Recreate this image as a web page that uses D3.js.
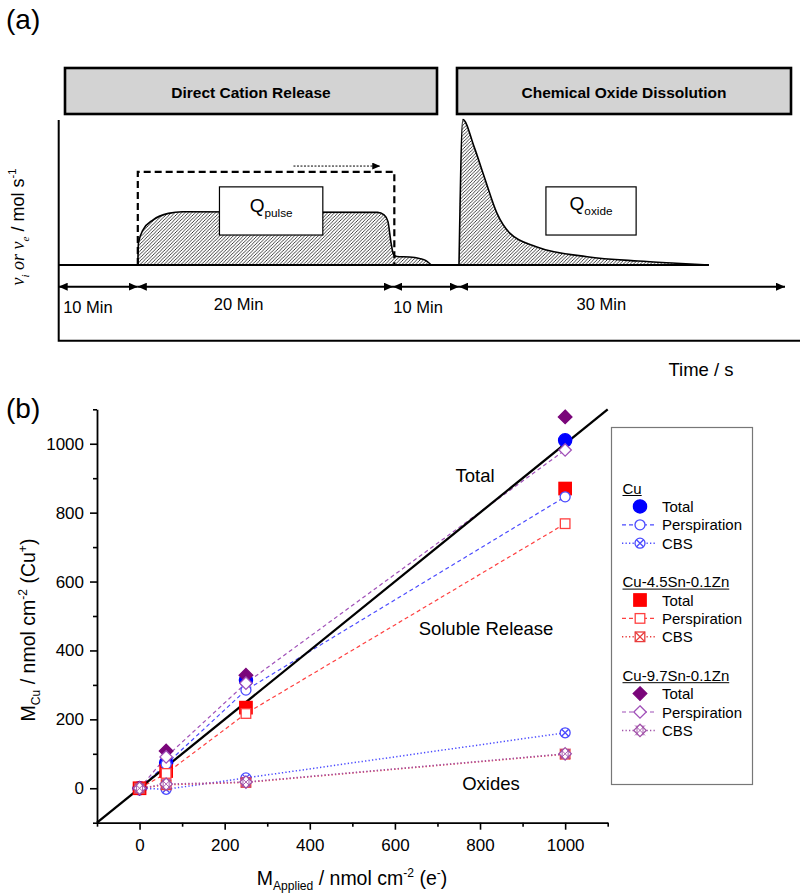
<!DOCTYPE html>
<html><head><meta charset="utf-8">
<script src="https://cdn.jsdelivr.net/npm/d3@7"></script>
<style>
body{margin:0;background:#fff}
svg{display:block}
text{font-family:"Liberation Sans",Arial,Helvetica,sans-serif;fill:#000}
</style>
</head><body>
<svg id="c" width="800" height="893"></svg>
<script>
// ---------------- DATA: panel (a) schematic ----------------
const phaseBounds = [0, 10, 30, 40, 70];            // minutes
const phaseLabels = ["10 Min", "20 Min", "10 Min", "30 Min"];
const phaseLabelAt = [3.7, 17.9, 33.8, 53.1];        // minutes
const phaseNames = ["Direct Cation Release", "Chemical Oxide Dissolution"];
const pulseT = [10, 10.05, 10.4, 11.2, 12.4, 13.5, 28.8, 29.3, 29.6, 29.85, 30.1, 30.6, 32.5, 34, 35, 35.8];
const pulseR = [0, 0.15, 0.24, 0.31, 0.355, 0.366, 0.362, 0.345, 0.3, 0.15, 0.07, 0.058, 0.055, 0.045, 0.03, 0];
const oxideT = [40, 40.35, 41.4, 42.35, 43.5, 44.7, 47.1, 51.8, 56.5, 60, 63];
const oxideR = [0, 1.0, 0.81, 0.6, 0.355, 0.217, 0.126, 0.057, 0.027, 0.012, 0];
const appliedLevel = 0.64;   // dashed applied current level
const appliedEnd = 30.2;

// ---------------- DATA: panel (b) ----------------
const xApplied  = [0, 62.5, 250, 1000];
const cuTotal   = [0, 74, 314, 1010];
const cuPersp   = [0, 70, 285, 846];
const cuCBS     = [0, -3, 30, 161];
const sn45Total = [0, 50, 234, 870];
const sn45Persp = [0, 43, 217, 768];
const sn45CBS   = [0, 10, 17, 99];
const sn97Total = [0, 108, 328, 1078];
const sn97Persp = [0, 91, 305, 982];
const sn97CBS   = [0, 12, 18, 100];
const alloys    = ["Cu", "Cu-4.5Sn-0.1Zn", "Cu-9.7Sn-0.1Zn"];
const measures  = ["Total", "Perspiration", "CBS"];
const majorTicks = [0, 200, 400, 600, 800, 1000];
const minorTicks = [-100, 100, 300, 500, 700, 900, 1100];
const idealLine = [-100, 1100];

const svg = d3.select("#c");
const defs = svg.append("defs");

// rich text helper
function rich(sel, parts, size) {
  let cur = 0;
  parts.forEach(p => {
    const s = p.sub ? size * 0.28 : p.sup ? -size * 0.42 : 0;
    const ts = sel.append("tspan").text(p.t).attr("dy", s - cur);
    cur = s;
    if (p.sub || p.sup) ts.attr("font-size", size * 0.62);
    if (p.serif) ts.style("font-family", '"Liberation Serif","Times New Roman",serif').style("font-style", "italic");
  });
}

// ================= PANEL (a) =================
const tS = d3.scaleLinear().domain(phaseBounds).range([58.7, 137.8, 393, 459, 785]);
const rS = d3.scaleLinear([0, 1], [265, 119.5]);

const hatch = defs.append("pattern").attr("id", "hatch").attr("patternUnits", "userSpaceOnUse")
  .attr("width", 3.4).attr("height", 3.4);
hatch.append("path").attr("d", "M-1,1 l2,-2 M0,3.4 l3.4,-3.4 M2.4,4.4 l2,-2")
  .attr("stroke", "#000").attr("stroke-width", 0.75);

defs.append("marker").attr("id", "ah").attr("viewBox", "0 0 9 8").attr("refX", 9).attr("refY", 4)
  .attr("markerWidth", 9).attr("markerHeight", 8).attr("markerUnits", "userSpaceOnUse")
  .attr("orient", "auto-start-reverse")
  .append("path").attr("d", "M0,0 L9,4 L0,8 Z").attr("fill", "#000");
defs.append("marker").attr("id", "ahs").attr("viewBox", "0 0 8 7").attr("refX", 8).attr("refY", 3.5)
  .attr("markerWidth", 8).attr("markerHeight", 7).attr("markerUnits", "userSpaceOnUse")
  .attr("orient", "auto")
  .append("path").attr("d", "M0,0 L8,3.5 L0,7 Z").attr("fill", "#000");

const A = svg.append("g");
A.append("text").attr("x", 6).attr("y", 29).attr("font-size", 28).text("(a)");

// phase boxes
const boxX = [[65, 437], [457, 791]];
phaseNames.forEach((n, i) => {
  A.append("rect").attr("x", boxX[i][0]).attr("y", 68).attr("width", boxX[i][1] - boxX[i][0]).attr("height", 46)
    .attr("fill", "#d3d3d3").attr("stroke", "#000").attr("stroke-width", 2.6);
  A.append("text").attr("x", (boxX[i][0] + boxX[i][1]) / 2).attr("y", 97.5).attr("text-anchor", "middle")
    .attr("font-size", 15.5).attr("font-weight", "bold").text(n);
});

// axes
A.append("path").attr("d", `M${tS(0)},120 V340.7 H800`).attr("fill", "none").attr("stroke", "#000").attr("stroke-width", 2);

// baseline
A.append("line").attr("x1", tS(0)).attr("x2", tS(63)).attr("y1", rS(0)).attr("y2", rS(0))
  .attr("stroke", "#000").attr("stroke-width", 2);

const area = d3.area().x(d => tS(d[0])).y0(rS(0)).y1(d => rS(d[1])).curve(d3.curveMonotoneX);
const line = d3.line().x(d => tS(d[0])).y(d => rS(d[1])).curve(d3.curveMonotoneX);
const pulse = pulseT.map((t, i) => [t, pulseR[i]]);
const oxide = oxideT.map((t, i) => [t, oxideR[i]]);
[pulse, oxide].forEach(pts => {
  A.append("path").attr("d", area(pts)).attr("fill", "url(#hatch)");
  A.append("path").attr("d", line(pts)).attr("fill", "none").attr("stroke", "#000").attr("stroke-width", 1.6);
});

// dashed applied rectangle
A.append("path").attr("d", `M${tS(10)},${rS(0)} V${rS(appliedLevel)} H${tS(appliedEnd)} V${rS(0)}`)
  .attr("fill", "none").attr("stroke", "#000").attr("stroke-width", 2.2).attr("stroke-dasharray", "7,4");
// dotted arrow
A.append("line").attr("x1", tS(22.2)).attr("x2", tS(29)).attr("y1", rS(0.68)).attr("y2", rS(0.68))
  .attr("stroke", "#000").attr("stroke-width", 1).attr("stroke-dasharray", "2,1.5").attr("marker-end", "url(#ahs)");

// Q boxes
function qBox(t0, t1, sub, yb) {
  A.append("rect").attr("x", tS(t0)).attr("y", rS(0.537)).attr("width", tS(t1) - tS(t0)).attr("height", rS(0.206) - rS(0.537))
    .attr("fill", "#fff").attr("stroke", "#000").attr("stroke-width", 1.2);
  const tx = A.append("text").attr("x", (tS(t0) + tS(t1)) / 2).attr("y", yb).attr("text-anchor", "middle").attr("font-size", 19);
  rich(tx, [{ t: "Q" }, { t: sub, sub: true }], 19);
}
qBox(16.4, 24.5, "pulse", 212);
qBox(48.0, 56.3, "oxide", 210);

// phase arrows
phaseLabels.forEach((lab, i) => {
  A.append("line").attr("x1", tS(phaseBounds[i])).attr("x2", tS(phaseBounds[i + 1]))
    .attr("y1", 286.7).attr("y2", 286.7).attr("stroke", "#000").attr("stroke-width", 2)
    .attr("marker-start", "url(#ah)").attr("marker-end", "url(#ah)");
  A.append("text").attr("x", tS(phaseLabelAt[i])).attr("y", i % 2 === 0 ? 313 : 309.5)
    .attr("text-anchor", "middle").attr("font-size", 16.5).text(lab);
});

A.append("text").attr("x", 701).attr("y", 376).attr("text-anchor", "middle").attr("font-size", 18.5).text("Time / s");
const ya = A.append("text").attr("transform", "translate(24,227) rotate(-90)").attr("text-anchor", "middle").attr("font-size", 18);
rich(ya, [{ t: "ν", serif: true }, { t: "i", sub: true, serif: true }, { t: " or ", serif: true }, { t: "ν", serif: true },
  { t: "e", sub: true, serif: true }, { t: " / mol s" }, { t: "-1", sup: true }], 18);

// ================= PANEL (b) =================
const xS = d3.scaleLinear([-100, 1100], [97, 607.7]);
const yS = d3.scaleLinear([-100, 1100], [822.7, 409.3]);
const B = svg.append("g");
B.append("text").attr("x", 6).attr("y", 418).attr("font-size", 28).text("(b)");

function styleAxis(g) {
  g.select(".domain").attr("stroke-width", 1.8);
  g.selectAll(".tick line").attr("stroke-width", 1.6);
  g.selectAll(".tick text").attr("font-size", 17).style("font-family", '"Liberation Sans",Arial,sans-serif');
}
const gx = B.append("g").attr("transform", `translate(0,${yS(-100)})`)
  .call(d3.axisBottom(xS).tickValues(majorTicks).tickSize(7).tickSizeOuter(0).tickPadding(9).tickFormat(d3.format("d")));
styleAxis(gx);
const gx2 = B.append("g").attr("transform", `translate(0,${yS(-100)})`)
  .call(d3.axisBottom(xS).tickValues(minorTicks).tickSize(4).tickSizeOuter(0).tickFormat(""));
gx2.select(".domain").remove(); gx2.selectAll(".tick line").attr("stroke-width", 1.6);
const gy = B.append("g").attr("transform", `translate(${xS(-100)},0)`)
  .call(d3.axisLeft(yS).tickValues(majorTicks).tickSize(7).tickSizeOuter(0).tickPadding(6).tickFormat(d3.format("d")));
styleAxis(gy);
const gy2 = B.append("g").attr("transform", `translate(${xS(-100)},0)`)
  .call(d3.axisLeft(yS).tickValues(minorTicks).tickSize(4).tickSizeOuter(0).tickFormat(""));
gy2.select(".domain").remove(); gy2.selectAll(".tick line").attr("stroke-width", 1.6);

// axis titles
const xt = B.append("text").attr("x", 352).attr("y", 885).attr("text-anchor", "middle").attr("font-size", 19.5);
rich(xt, [{ t: "M" }, { t: "Applied", sub: true }, { t: " / nmol cm" }, { t: "-2", sup: true }, { t: " (e" }, { t: "-", sup: true }, { t: ")" }], 19.5);
const yt = B.append("text").attr("transform", "translate(35,630) rotate(-90)").attr("text-anchor", "middle").attr("font-size", 19.5);
rich(yt, [{ t: "M" }, { t: "Cu", sub: true }, { t: " / nmol cm" }, { t: "-2", sup: true }, { t: " (Cu" }, { t: "+", sup: true }, { t: ")" }], 19.5);

// series definitions
const blue = "#0000ff", red = "#ff0000", purple = "#7a067a";
const series = [
  { a: 0, m: 0, v: cuTotal,   shape: "circle",  col: blue,   line: null },
  { a: 1, m: 0, v: sn45Total, shape: "square",  col: red,    line: null },
  { a: 2, m: 0, v: sn97Total, shape: "diamond", col: purple, line: null },
  { a: 0, m: 1, v: cuPersp,   shape: "circle",  col: "#4a4aff", line: "4,3" },
  { a: 1, m: 1, v: sn45Persp, shape: "square",  col: "#ff4040", line: "4,3" },
  { a: 2, m: 1, v: sn97Persp, shape: "diamond", col: "#a050b8", line: "4,3" },
  { a: 0, m: 2, v: cuCBS,     shape: "circle",  col: "#4a4aff", line: "1.3,2.2" },
  { a: 1, m: 2, v: sn45CBS,   shape: "square",  col: "#e83c3c", line: "1.3,2.2" },
  { a: 2, m: 2, v: sn97CBS,   shape: "diamond", col: "#a050a8", line: "1.3,2.2" }
];

function marker(g, shape, m, col, cx, cy) {
  const s = g.append("g").attr("transform", `translate(${cx},${cy})`);
  const filled = m === 0;
  const sw = 1.3;
  if (shape === "circle") {
    const r = filled ? 6.6 : 5;
    s.append("circle").attr("r", r).attr("fill", filled ? col : "#fff").attr("stroke", col).attr("stroke-width", sw);
    if (m === 2) s.append("path").attr("d", `M-3.5,-3.5 L3.5,3.5 M-3.5,3.5 L3.5,-3.5`).attr("stroke", col).attr("stroke-width", sw);
  } else if (shape === "square") {
    const h = filled ? 6.2 : 4.8;
    s.append("rect").attr("x", -h).attr("y", -h).attr("width", 2 * h).attr("height", 2 * h)
      .attr("fill", filled ? col : "#fff").attr("stroke", col).attr("stroke-width", sw);
    if (m === 2) s.append("path").attr("d", `M${-h},${-h} L${h},${h} M${-h},${h} L${h},${-h}`).attr("stroke", col).attr("stroke-width", sw);
  } else {
    const h = filled ? 6.8 : 6.2;
    s.append("path").attr("d", `M0,${-h} L${h},0 L0,${h} L${-h},0 Z`)
      .attr("fill", filled ? col : "#fff").attr("stroke", col).attr("stroke-width", sw);
    if (m === 2) s.append("path").attr("d", `M-5,-5 L5,5 M-5,5 L5,-5 M-3,-5 L-3,5 M3,-5 L3,5`).attr("stroke", col).attr("stroke-width", 0.9);
  }
}

const pl = d3.line().x(d => xS(d[0])).y(d => yS(d[1]));
series.filter(s => s.line).forEach(s => {
  B.append("path").attr("d", pl(xApplied.map((x, i) => [x, s.v[i]]))).attr("fill", "none")
    .attr("stroke", s.col).attr("stroke-width", s.m === 2 ? 1.5 : 1.2).attr("stroke-dasharray", s.line);
});
B.append("line").attr("x1", xS(idealLine[0])).attr("y1", yS(idealLine[0])).attr("x2", xS(idealLine[1])).attr("y2", yS(idealLine[1]))
  .attr("stroke", "#000").attr("stroke-width", 2.3);
series.forEach(s => {
  xApplied.forEach((x, i) => marker(B, s.shape, s.m, s.col, xS(x), yS(s.v[i])));
});

// annotations
[["Total", 475, 482], ["Soluble Release", 486, 635], ["Oxides", 491, 790]].forEach(([t, x, y]) => {
  B.append("text").attr("x", x).attr("y", y).attr("text-anchor", "middle").attr("font-size", 18.5).text(t);
});

// legend
B.append("rect").attr("x", 611.5).attr("y", 427.5).attr("width", 141).attr("height", 357)
  .attr("fill", "none").attr("stroke", "#777").attr("stroke-width", 1.2);
alloys.forEach((al, ai) => {
  const top = 488 + ai * 93.6;
  const ht = B.append("text").attr("x", 622.5).attr("y", top + 5.5).attr("font-size", 15).text(al);
  const w = ht.node().getComputedTextLength();
  B.append("line").attr("x1", 622.5).attr("x2", 622.5 + w).attr("y1", top + 7.5).attr("y2", top + 7.5).attr("stroke", "#000").attr("stroke-width", 1);
  measures.forEach((me, mi) => {
    const s = series.find(d => d.a === ai && d.m === mi);
    const cy = top + 18.4 * (mi + 1);
    if (s.line) B.append("line").attr("x1", 622).attr("x2", 657).attr("y1", cy).attr("y2", cy)
      .attr("stroke", s.col).attr("stroke-width", s.m === 2 ? 1.5 : 1.2).attr("stroke-dasharray", s.line);
    marker(B, s.shape, s.m, s.col, 640, cy);
    B.append("text").attr("x", 662).attr("y", cy + 5.5).attr("font-size", 15).text(me);
  });
});
</script>
</body></html>
